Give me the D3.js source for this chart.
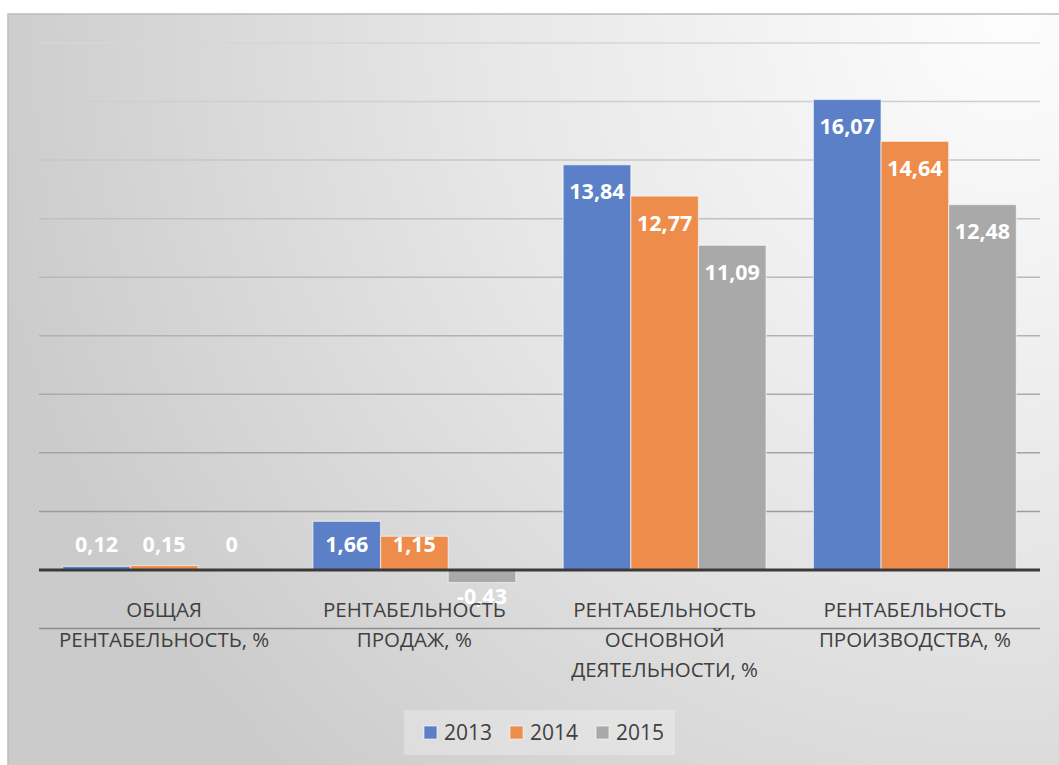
<!DOCTYPE html>
<html>
<head>
<meta charset="utf-8">
<script src="https://cdn.jsdelivr.net/npm/d3@7"></script>
<style>
  html, body { margin: 0; padding: 0; background: #fff; }
  svg { display: block; }
</style>
</head>
<body>
<div id="chart"></div>
<script>
// categories (lines of each axis label)
const categories = [
    ["ОБЩАЯ", "РЕНТАБЕЛЬНОСТЬ, %"],
    ["РЕНТАБЕЛЬНОСТЬ", "ПРОДАЖ, %"],
    ["РЕНТАБЕЛЬНОСТЬ", "ОСНОВНОЙ", "ДЕЯТЕЛЬНОСТИ, %"],
    ["РЕНТАБЕЛЬНОСТЬ", "ПРОИЗВОДСТВА, %"]
];
const years = ["2013", "2014", "2015"];
const values2013 = [0.12, 1.66, 13.84, 16.07];
const values2014 = [0.15, 1.15, 12.77, 14.64];
const values2015 = [0, -0.43, 11.09, 12.48];
const yTicks = [-2, 0, 2, 4, 6, 8, 10, 12, 14, 16, 18];

const colors = { "2013": "#5b80c8", "2014": "#ee8c4b", "2015": "#a9a9a9" };
const series = { "2013": values2013, "2014": values2014, "2015": values2015 };

const W = 1059, H = 765;
const plot = { left: 39, right: 1040, top: 43, bottom: 628.5 };
const font = "'Open Sans', 'Noto Sans', sans-serif";

const svg = d3.select("#chart").append("svg")
    .attr("width", W)
    .attr("height", H);

const defs = svg.append("defs");
const bg = defs.append("radialGradient")
    .attr("id", "bg")
    .attr("gradientUnits", "userSpaceOnUse")
    .attr("cx", 1010).attr("cy", 20).attr("r", 1050);
bg.append("stop").attr("offset", "0%").attr("stop-color", "#fdfdfd");
bg.append("stop").attr("offset", "50%").attr("stop-color", "#e7e7e7");
bg.append("stop").attr("offset", "100%").attr("stop-color", "#cbcbcb");

const gridGrad = defs.append("linearGradient")
    .attr("id", "gridgrad")
    .attr("gradientUnits", "userSpaceOnUse")
    .attr("x1", 0).attr("y1", plot.top).attr("x2", 0).attr("y2", plot.bottom);
gridGrad.append("stop").attr("offset", "0%").attr("stop-color", "#d6d6d6");
gridGrad.append("stop").attr("offset", "100%").attr("stop-color", "#8e8e8e");

// chart area with frame
svg.append("rect")
    .attr("x", 8).attr("y", 14)
    .attr("width", W - 8 + 2).attr("height", H - 14 + 2)
    .attr("fill", "url(#bg)")
    .attr("stroke", "#bdbdbd")
    .attr("stroke-width", 1.5);

const x0 = d3.scaleBand()
    .domain(d3.range(categories.length))
    .range([plot.left, plot.right]);

const barW = x0.bandwidth() / 3.7;
const x1 = d3.scaleBand()
    .domain(years)
    .range([0, barW * 3]);
const groupOffset = (x0.bandwidth() - barW * 3) / 2;

const y = d3.scaleLinear()
    .domain([-2, 18])
    .range([plot.bottom, plot.top]);

// gridlines
svg.append("g")
    .selectAll("line")
    .data(yTicks.filter(d => d !== 0))
    .join("line")
    .attr("x1", plot.left).attr("x2", plot.right)
    .attr("y1", d => y(d)).attr("y2", d => y(d))
    .attr("stroke", "url(#gridgrad)")
    .attr("stroke-width", 1.5);

// bars
const groups = svg.append("g")
    .selectAll("g")
    .data(categories.map((c, i) => i))
    .join("g")
    .attr("transform", i => `translate(${x0(i) + groupOffset},0)`);

groups.selectAll("rect")
    .data(i => years.map(yr => ({ yr, v: series[yr][i] })))
    .join("rect")
    .attr("x", d => x1(d.yr))
    .attr("width", x1.bandwidth())
    .attr("y", d => y(Math.max(0, d.v)))
    .attr("height", d => Math.abs(y(d.v) - y(0)))
    .attr("fill", d => colors[d.yr])
    .attr("stroke", "rgba(255,255,255,0.55)")
    .attr("stroke-width", 1.2);

// zero axis
svg.append("line")
    .attr("x1", plot.left).attr("x2", plot.right)
    .attr("y1", y(0)).attr("y2", y(0))
    .attr("stroke", "#3a3a3a")
    .attr("stroke-width", 3);

// category labels
svg.append("g")
    .selectAll("text")
    .data(categories)
    .join("text")
    .attr("text-anchor", "middle")
    .attr("fill", "#404040")
    .style("font-family", font)
    .style("font-size", "20.5px")
    .each(function (lines, i) {
        d3.select(this).selectAll("tspan")
            .data(lines)
            .join("tspan")
            .attr("x", x0(i) + x0.bandwidth() / 2)
            .attr("y", (d, j) => 617 + j * 30)
            .text(d => d);
    });

// data labels (inside end, kept off the axis)
groups.selectAll("text")
    .data(i => years.map(yr => ({ yr, v: series[yr][i] })))
    .join("text")
    .attr("x", d => x1(d.yr) + x1.bandwidth() / 2)
    .attr("y", d => {
        if (d.v >= 0) return Math.min(y(d.v) + 27, y(0) - 25) + 7.5;
        return Math.max(y(d.v) - 27, y(0) + 27) + 7.5;
    })
    .attr("text-anchor", "middle")
    .attr("fill", "#fff")
    .style("font-family", font)
    .style("font-weight", "bold")
    .style("font-size", "21.5px")
    .text(d => String(d.v).replace(".", ","));

// legend
const legend = svg.append("g");
legend.append("rect")
    .attr("x", 404).attr("y", 710)
    .attr("width", 271).attr("height", 45)
    .attr("fill", "rgba(255,255,255,0.28)");

const legendX = [424, 510, 596];
const items = legend.selectAll("g")
    .data(years)
    .join("g")
    .attr("transform", (d, i) => `translate(${legendX[i]},726)`);
items.append("rect")
    .attr("width", 13).attr("height", 13)
    .attr("fill", d => colors[d])
    .attr("stroke", "rgba(255,255,255,0.6)");
items.append("text")
    .attr("x", 20).attr("y", 14)
    .attr("fill", "#404040")
    .style("font-family", font)
    .style("font-size", "21px")
    .text(d => d);
</script>
</body>
</html>
